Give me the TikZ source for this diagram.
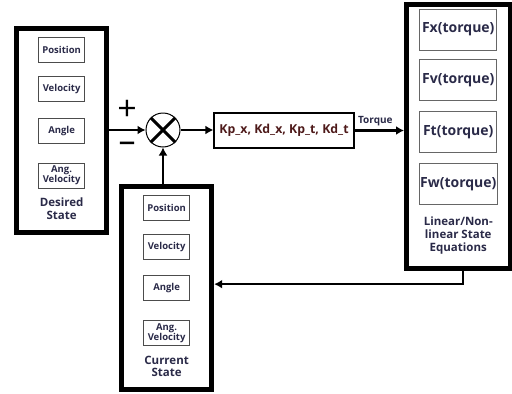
\documentclass[tikz,border=0pt]{standalone}
\usepackage{fontspec}
\setmainfont{Open Sans}
\usetikzlibrary{matrix,positioning,arrows.meta}
\definecolor{statetext}{RGB}{42,42,72}
\definecolor{gaintext}{RGB}{78,26,26}
\newcommand{\stacked}[1]{{\def\arraystretch{0.85}\begin{tabular}{@{}c@{}}#1\end{tabular}}}
\tikzset{
  >={Latex[length=8pt,width=9pt]},
  outerbox/.style={draw, line width=5pt, inner xsep=21.5pt, inner ysep=8pt, anchor=north west},
  statebox/.style={draw=black!70, line width=1.2pt, minimum width=46pt, minimum height=25pt, inner sep=1pt, font=\fontsize{9.5}{12}\selectfont\bfseries, text=statetext},
  eqbox/.style={draw=black!60, line width=1.2pt, minimum width=77pt, minimum height=41pt, inner sep=1pt, font=\fontsize{14}{15}\selectfont\bfseries, text=statetext},
  boxlabel/.style={draw=none, minimum size=0pt, inner sep=1pt, font=\fontsize{11.5}{15}\selectfont\bfseries, text=statetext},
  sign/.style={inner sep=0pt, font=\fontsize{34}{34}\selectfont},
  flow/.style={line width=2.4pt}
}
\begin{document}
\begin{tikzpicture}[x=1pt,y=-1pt]
    \useasboundingbox (0,0) rectangle (512,394);

    \matrix (D)[matrix of nodes, outerbox, nodes={statebox}, row 5/.style={nodes={boxlabel}}] at (14,26)
      {Position \\[13.5pt] Velocity \\[15.5pt] Angle \\[18.5pt] \stacked{Ang.\\Velocity} \\[8pt] \stacked{Desired\\State} \\};

    \matrix (C)[matrix of nodes, outerbox, nodes={statebox}, row 5/.style={nodes={boxlabel}}] at (119,184)
      {Position \\[13pt] Velocity \\[15pt] Angle \\[19pt] \stacked{Ang.\\Velocity} \\[8pt] \stacked{Current\\State} \\};

    \matrix (E)[matrix of nodes, outerbox, inner xsep=12pt, inner ysep=4pt, nodes={eqbox}, row 5/.style={nodes={boxlabel, font=\fontsize{11.5}{15.5}\selectfont\bfseries, text depth=24pt}}] at (404,2)
      {Fx(torque) \\[8pt] Fv(torque) \\[10pt] Ft(torque) \\[10pt] Fw(torque) \\[10pt] \stacked{Linear/Non-\\linear State\\Equations} \\};

    \node (S)[draw, circle, line width=1pt, minimum size=34pt, inner sep=0pt] at (163,130) {};
    \draw[line width=3pt] (S.north west) -- (S.south east);
    \draw[line width=3pt] (S.north east) -- (S.south west);
    \node (plus)[sign] at (127,110) {+};
    \node (minus)[sign] at (127,147) {–};

    \node (K)[draw, line width=1.2pt, minimum width=140pt, minimum height=35pt, inner sep=2pt, font=\fontsize{12.3}{14}\selectfont\bfseries, text=gaintext] at (284,130.5) {Kp\_x, Kd\_x, Kp\_t, Kd\_t};

    \draw[flow,->] (D.east |- S.west) -- (S.west);
    \draw[flow,->] (S.east) -- (K.west |- S.east);
    \draw[flow,->] (K.east) -- node[above, pos=0.42, font=\fontsize{10}{11}\selectfont\bfseries, text=statetext] (torque) {Torque} (E.west |- K.east);
    \draw[flow,->] (S |- C.north) -- (S.south);
    \draw[flow,->] ([xshift=5pt]E.south) |- ([yshift=4pt]C.east);
\end{tikzpicture}
\end{document}
